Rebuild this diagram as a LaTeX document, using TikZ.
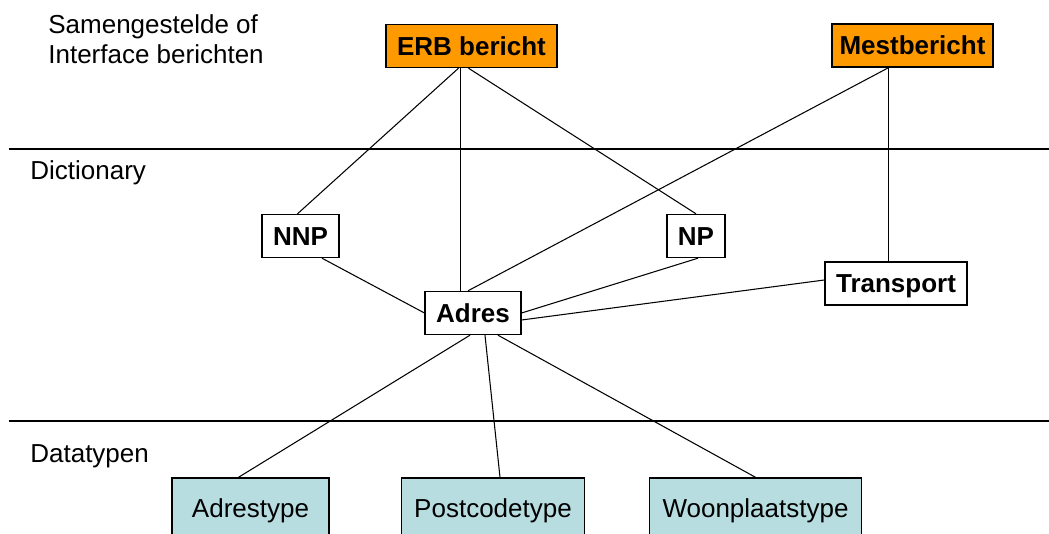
\documentclass[tikz,border=0pt]{standalone}
\usepackage{fontspec}
\setmainfont{Liberation Sans}
\usepackage{tikz}
\usetikzlibrary{positioning}
\usetikzlibrary{calc}
\definecolor{msgorange}{RGB}{255,153,0}
\definecolor{typeblue}{RGB}{183,221,224}
\newcommand{\diagfont}{\fontsize{14.8}{17.07}\selectfont}
\tikzstyle{box} = [draw, rectangle, line width = 0.8pt, text height = 0.37cm, text depth = 0cm, minimum height = 0.86cm, inner xsep = 0.22cm]
\tikzstyle{message} = [box, fill = msgorange, font = \diagfont\bfseries]
\tikzstyle{element} = [box, fill = white, font = \diagfont\bfseries]
\tikzstyle{datatype} = [box, fill = typeblue, font = \diagfont, inner xsep = 0.26cm, minimum height = 1.2cm]
\tikzstyle{layername} = [anchor = base west, inner sep = 0pt, font = \diagfont]
\tikzstyle{layer} = [line width = 1.1pt]
\tikzstyle{link} = [line width = 0.6pt]

\begin{document}
\begin{tikzpicture}[x = 0.02cm, y = -0.02cm]

			\useasboundingbox (0,0) rectangle (1049,534);

			% Layers
			\draw[layer] (9,149) -- (1049,149);
			\draw[layer] (9,421) -- (1049,421);
			\node[layername, align = left, anchor = north west] (berichten) at (48,14) {Samengestelde of\\Interface berichten};
			\node[layername] (dictionary) at (30,179) {Dictionary};
			\node[layername] (datatypen) at (30,462) {Datatypen};

			% Berichten
			\node[message] (erb) at (471.5,46) {ERB bericht};
			\node[message, inner xsep = 0.15cm] (mest) at (912.5,45.5) {Mestbericht};
			\coordinate (erbfoot) at ($(erb.south) + (-11,0)$);
			\coordinate (mestfoot) at ($(mest.south) + (-24,0)$);

			% Dictionary elements
			\node[element] (nnp) at (300.5,236) {NNP};
			\node[element] (np) at (696,236) {NP};
			\node[element] (adres) at (473,313) {Adres};
			\node[element] (transport) at (896,283.5) {Transport};

			% Datatypes
			\node[datatype, minimum width = 3.14cm] (adrestype) at (250.5,508) {Adrestype};
			\node[datatype] (postcodetype) at (493,508) {Postcodetype};
			\node[datatype] (woonplaatstype) at (755.5,508) {Woonplaatstype};

			% Connect all nodes defined above
			\draw[link] ($(erb.south) + (-13,0)$) -- ($(nnp.north) + (-3,0)$);
			\draw[link] (erbfoot) -- (erbfoot |- adres.north);
			\draw[link] ($(erb.south) + (-3,0)$) -- (np.north);
			\draw[link] (mestfoot) -- ($(adres.north) + (-5,0)$);
			\draw[link] (mestfoot) -- (mestfoot |- transport.north);
			\draw[link] ($(nnp.south) + (21.5,0)$) -- (adres.west);
			\draw[link] ($(np.south) + (2,0)$) -- (adres.east);
			\draw[link] ($(transport.west) + (0,-3.5)$) -- ($(adres.east) + (0,7)$);
			\draw[link] ($(adres.south) + (-3,0)$) -- ($(adrestype.north) + (-12,0)$);
			\draw[link] ($(adres.south) + (12,0)$) -- ($(postcodetype.north) + (7,0)$);
			\draw[link] ($(adres.south) + (25,0)$) -- (woonplaatstype.north);

		\end{tikzpicture}
\end{document}
